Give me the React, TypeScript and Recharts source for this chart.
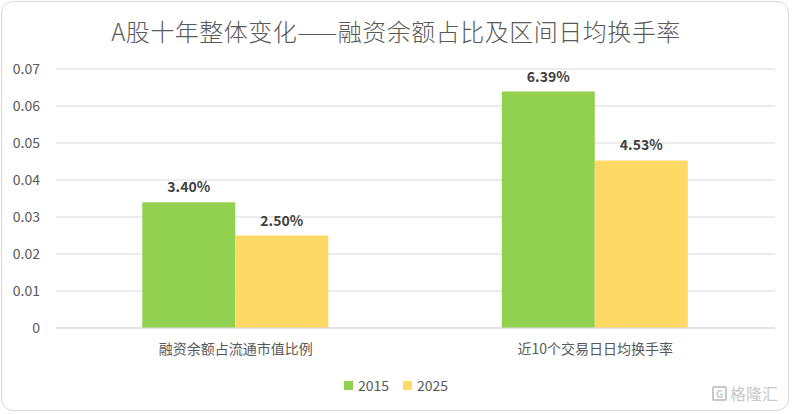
import React from "react";
import { BarChart, Bar, XAxis, YAxis, CartesianGrid, LabelList } from "recharts";

const categories = ["融资余额占流通市值比例", "近10个交易日日均换手率"];
const series2015 = [0.034, 0.0639];
const series2025 = [0.025, 0.0453];
const yTicks = [0, 0.01, 0.02, 0.03, 0.04, 0.05, 0.06, 0.07];
const seriesNames = ["2015", "2025"];
const title = "A股十年整体变化——融资余额占比及区间日均换手率";

const data = categories.map((c, i) => ({ name: c, s2015: series2015[i], s2025: series2025[i] }));

const FONT = "'Noto Sans CJK SC', 'Noto Sans', sans-serif";
const GREEN = "#92D050";
const YELLOW = "#FFD966";

const pct = (v: any) => (Number(v) * 100).toFixed(2) + "%";

export default function App() {
  return (
    <div style={{ position: "absolute", left: 0, top: 0, width: 792, height: 414, background: "#fff", fontFamily: FONT }}>
      <div style={{ position: "absolute", left: 1, top: 1, width: 788, height: 410, border: "1px solid #d9d9d9", borderRadius: 12, boxSizing: "border-box" }} />
      <div style={{ position: "absolute", left: 0, top: 13, width: 792, textAlign: "center", fontSize: 24, fontWeight: 300, color: "#595959", letterSpacing: 0.5 }}>
        {title}
      </div>
      <div style={{ position: "absolute", left: 0, top: 0 }}>
        <BarChart width={792} height={414} data={data} margin={{ top: 69, right: 17, left: 0, bottom: 56 }} barCategoryGap="24%" barGap={0}>
          <CartesianGrid vertical={false} stroke="#d9d9d9" strokeWidth={1} />
          <YAxis
            width={56}
            domain={[0, 0.07]}
            ticks={yTicks}
            axisLine={false}
            tickLine={false}
            tickFormatter={(v: number) => (v === 0 ? "0" : v.toFixed(2))}
            tick={{ fill: "#595959", fontSize: 14, fontFamily: FONT }}
            tickMargin={10}
          />
          <XAxis
            dataKey="name"
            height={30}
            axisLine={{ stroke: "#d9d9d9" }}
            tickLine={false}
            tick={{ fill: "#595959", fontSize: 14, fontFamily: FONT }}
            tickMargin={10}
          />
          <Bar dataKey="s2015" name={seriesNames[0]} fill={GREEN} isAnimationActive={false}>
            <LabelList dataKey="s2015" position="top" offset={10} formatter={pct} style={{ fill: "#404040", fontSize: 14, fontWeight: 700, fontFamily: FONT }} />
          </Bar>
          <Bar dataKey="s2025" name={seriesNames[1]} fill={YELLOW} isAnimationActive={false}>
            <LabelList dataKey="s2025" position="top" offset={10} formatter={pct} style={{ fill: "#404040", fontSize: 14, fontWeight: 700, fontFamily: FONT }} />
          </Bar>
        </BarChart>
      </div>
      <div style={{ position: "absolute", left: 0, top: 375, width: 792, display: "flex", justifyContent: "center", gap: 14, fontSize: 14, color: "#595959" }}>
        {seriesNames.map((n, i) => (
          <div key={n} style={{ display: "flex", alignItems: "center" }}>
            <span style={{ display: "inline-block", width: 9, height: 9, background: i === 0 ? GREEN : YELLOW, marginRight: 5 }} />
            <span>{n}</span>
          </div>
        ))}
      </div>
      <div style={{ position: "absolute", right: 14, top: 381, fontSize: 16, color: "#c8c8c8", display: "flex", alignItems: "center" }}>
        <span style={{ display: "inline-block", width: 15, height: 15, border: "2px solid #c8c8c8", borderRadius: 2, boxSizing: "border-box", marginRight: 3, fontSize: 10, lineHeight: "11px", textAlign: "center", fontWeight: 700 }}>G</span>
        <span>格隆汇</span>
      </div>
    </div>
  );
}
